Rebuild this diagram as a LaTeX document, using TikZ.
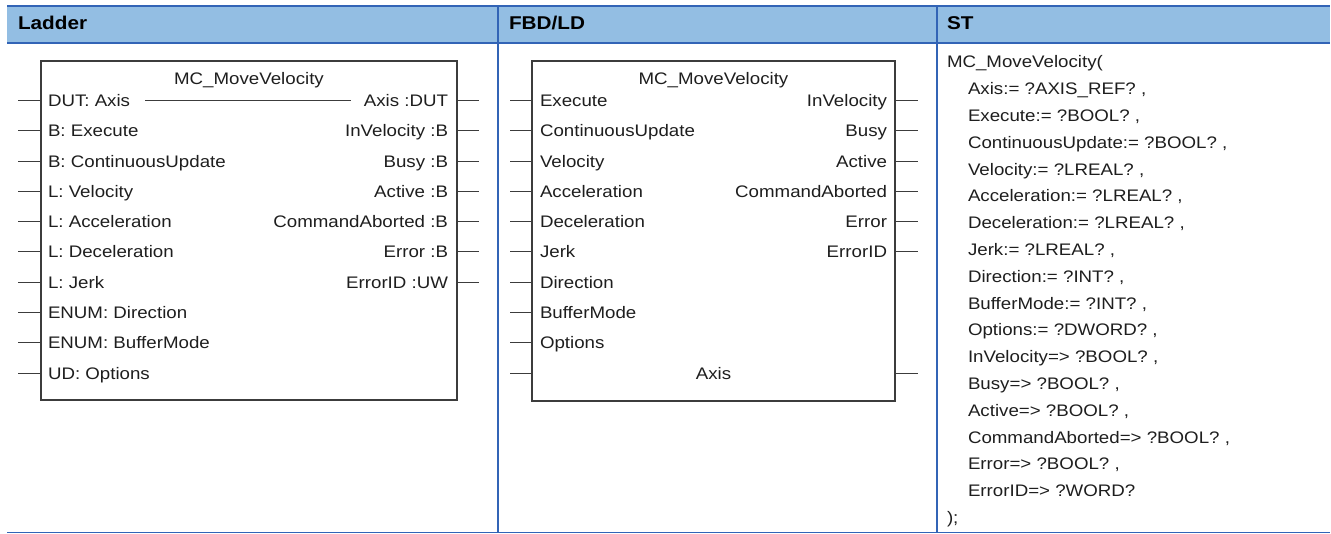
\documentclass[tikz,border=0pt]{standalone}
\usepackage{fontspec}
\setmainfont{Liberation Sans}[FakeStretch=1.12]
\definecolor{rule}{RGB}{50,100,182}
\definecolor{headfill}{RGB}{147,190,227}
\definecolor{ink}{RGB}{30,30,30}
\definecolor{boxline}{RGB}{60,60,60}
\begin{document}
\begin{tikzpicture}[x=1pt,y=-1pt,
  lbl/.style={inner sep=0pt, outer sep=0pt, font=\fontsize{16.7}{19}\selectfont, text=ink},
  sttxt/.style={inner sep=0pt, outer sep=0pt, font=\fontsize{16.7}{19}\selectfont, text=ink, anchor=base west},
  headtxt/.style={inner sep=0pt, outer sep=0pt, font=\bfseries\fontsize{18.5}{20}\selectfont, text=black, anchor=base west},
  fblock/.style={draw=boxline, line width=1.2pt, inner sep=0pt, outer sep=0pt, anchor=north west},
  pin/.style={draw=boxline, line width=1pt},
  rulethick/.style={draw=rule, line width=2pt},
  rulethin/.style={draw=rule, line width=1.3pt}]
\useasboundingbox (0,0) rectangle (1331,534);
% header band
\fill[headfill] (7,6) rectangle (1330,43.5);
\draw[rulethick] (7,6) -- (1330,6);
\draw[rulethick] (7,43.5) -- (1330,43.5);
\draw[rulethick] (498,6) -- (498,43.5);
\draw[rulethick] (937,6) -- (937,43.5);
\draw[rulethin] (498,43.5) -- (498,532.5);
\draw[rulethin] (937,43.5) -- (937,532.5);
\draw[rulethin] (7,532.5) -- (1330,532.5);
\node[headtxt] (hA) at (18,29.8) {Ladder};
\node[headtxt] (hB) at (509,29.8) {FBD/LD};
\node[headtxt] (hC) at (947,29.8) {ST};

% ---------- Ladder block ----------
\node[fblock, minimum width=416pt, minimum height=339pt] (blkA) at (41,61) {};
\node[lbl, anchor=base] (tA) at (249,85) {MC\_MoveVelocity};
\foreach \t [count=\i from 0] in {DUT: Axis, B: Execute, B: ContinuousUpdate, L: Velocity, L: Acceleration, L: Deceleration, L: Jerk, ENUM: Direction, ENUM: BufferMode, UD: Options}{
  \node[lbl, anchor=base west] (aL\i) at (48,{100.5+30.3*\i+6}) {\t};
  \coordinate (aLp\i) at (18,{100.5+30.3*\i});
  \draw[pin] (aLp\i) -- (aLp\i -| blkA.west);
}
\foreach \t [count=\i from 0] in {Axis :DUT, InVelocity :B, Busy :B, Active :B, CommandAborted :B, Error :B, ErrorID :UW}{
  \node[lbl, anchor=base east] (aR\i) at (448,{100.5+30.3*\i+6}) {\t};
  \coordinate (aRp\i) at (479,{100.5+30.3*\i});
  \draw[pin] (aRp\i -| blkA.east) -- (aRp\i);
}
\draw[pin] ([xshift=15pt]aL0.east |- aLp0) -- ([xshift=-13pt]aR0.west |- aLp0);

% ---------- FBD block ----------
\node[fblock, minimum width=363pt, minimum height=340pt] (blkB) at (532,61) {};
\node[lbl, anchor=base] (tB) at (713.5,85) {MC\_MoveVelocity};
\foreach \t [count=\i from 0] in {Execute, ContinuousUpdate, Velocity, Acceleration, Deceleration, Jerk, Direction, BufferMode, Options}{
  \node[lbl, anchor=base west] (bL\i) at (540,{100.5+30.3*\i+6}) {\t};
  \coordinate (bLp\i) at (510,{100.5+30.3*\i});
  \draw[pin] (bLp\i) -- (bLp\i -| blkB.west);
}
\foreach \t [count=\i from 0] in {InVelocity, Busy, Active, CommandAborted, Error, ErrorID}{
  \node[lbl, anchor=base east] (bR\i) at (887,{100.5+30.3*\i+6}) {\t};
  \coordinate (bRp\i) at (918,{100.5+30.3*\i});
  \draw[pin] (bRp\i -| blkB.east) -- (bRp\i);
}
\node[lbl, anchor=base] (bAx) at (713.5,{100.5+30.3*9+6}) {Axis};
\coordinate (bAxL) at (510,{100.5+30.3*9});
\coordinate (bAxR) at (918,{100.5+30.3*9});
\draw[pin] (bAxL) -- (bAxL -| blkB.west);
\draw[pin] (bAxR -| blkB.east) -- (bAxR);

% ---------- ST text ----------
\node[sttxt] (s0) at (947,{62+6}) {MC\_MoveVelocity(};
\foreach \t [count=\i from 1] in {Axis:= ?AXIS\_REF? {,}, Execute:= ?BOOL? {,}, ContinuousUpdate:= ?BOOL? {,}, Velocity:= ?LREAL? {,}, Acceleration:= ?LREAL? {,}, Deceleration:= ?LREAL? {,}, Jerk:= ?LREAL? {,}, Direction:= ?INT? {,}, BufferMode:= ?INT? {,}, Options:= ?DWORD? {,}, InVelocity=> ?BOOL? {,}, Busy=> ?BOOL? {,}, Active=> ?BOOL? {,}, CommandAborted=> ?BOOL? {,}, Error=> ?BOOL? {,}, ErrorID=> ?WORD?}{
  \node[sttxt] (s\i) at (968,{62+26.8*\i+6}) {\t};
}
\node[sttxt] (s17) at (947,{62+26.8*17+6}) {);};
\end{tikzpicture}
\end{document}
